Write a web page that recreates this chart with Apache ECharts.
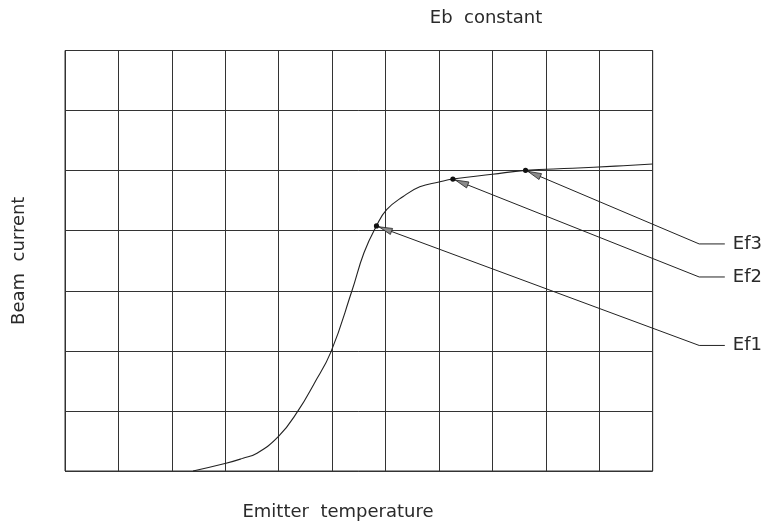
<!DOCTYPE html>
<html>
<head>
<meta charset="utf-8">
<script src="https://cdn.jsdelivr.net/npm/echarts@6/dist/echarts.min.js"></script>
<style>html,body{margin:0;padding:0;background:#fff;}#chart{width:769px;height:523px;}</style>
</head>
<body>
<div id="chart"></div>
<script>
// Curve: beam current vs emitter temperature (grid units)
const curveX = [2.396, 3.013, 3.331, 3.594, 4.005, 4.361, 4.66, 4.978, 5.371, 5.596, 5.83, 6.02, 6.33, 6.64, 7.0, 7.26, 8.0, 8.62, 9.5, 10.3, 11.0];
const curveY = [0.0, 0.128, 0.212, 0.295, 0.583, 1.0, 1.45, 1.983, 3.0, 3.633, 4.08, 4.35, 4.57, 4.73, 4.81, 4.86, 4.94, 5.005, 5.04, 5.075, 5.11];

// Annotations
const annLabels = ['Ef1', 'Ef2', 'Ef3'];
const annPointX = [5.83, 7.26, 8.62];
const annPointY = [4.08, 4.86, 5.005];
const annElbowX = [11.87, 11.87, 11.87];
const annElbowY = [2.09, 3.23, 3.78];
const annEndX = [12.35, 12.35, 12.35];

const titleText = 'Eb  constant';
const xName = 'Emitter  temperature';
const yName = 'Beam  current';

const FONT = 'DejaVu Sans';
const TXT = {fontFamily: FONT, fontSize: 18, fontWeight: 'normal', color: '#2a2a2a'};
const chart = echarts.init(document.getElementById('chart'), null, {renderer: 'canvas'});

const annData = annLabels.map((l, i) => [annPointX[i], annPointY[i], annElbowX[i], annElbowY[i], annEndX[i], i]);

const option = {
  backgroundColor: '#fff',
  animation: false,
  title: [
    {text: titleText, left: 481, top: 4, textAlign: 'center', textStyle: TXT},
    {text: xName, left: 333, top: 498, textAlign: 'center', textStyle: TXT}
  ],
  grid: {left: 65, top: 50.5, width: 587.7, height: 420.5, show: true, borderColor: '#333', borderWidth: 1, backgroundColor: 'transparent'},
  xAxis: {
    type: 'value', min: 0, max: 11, interval: 1,
    axisLine: {show: false}, axisTick: {show: false}, axisLabel: {show: false},
    splitLine: {show: true, lineStyle: {color: '#333', width: 1}}
  },
  yAxis: {
    type: 'value', min: 0, max: 7, interval: 1,
    name: yName, nameLocation: 'middle', nameGap: 37, nameRotate: 90,
    nameTextStyle: TXT,
    axisLine: {show: false}, axisTick: {show: false}, axisLabel: {show: false},
    splitLine: {show: true, lineStyle: {color: '#333', width: 1}}
  },
  series: [
    {
      type: 'line',
      data: curveX.map((x, i) => [x, curveY[i]]),
      smooth: 0.45,
      showSymbol: false,
      lineStyle: {color: '#222', width: 1.1},
      clip: false,
      z: 3
    },
    {
      type: 'custom',
      data: annData,
      clip: false,
      z: 5,
      renderItem: function (params, api) {
        const p = api.coord([api.value(0), api.value(1)]);
        const e = api.coord([api.value(2), api.value(3)]);
        const t = api.coord([api.value(4), api.value(3)]);
        const idx = api.value(5);
        const dx = e[0] - p[0], dy = e[1] - p[1];
        const L = Math.sqrt(dx * dx + dy * dy);
        const ux = dx / L, uy = dy / L;
        const nx = -uy, ny = ux;
        const tip = [p[0] + ux * 2.5, p[1] + uy * 2.5];
        const bx = p[0] + ux * 16, by = p[1] + uy * 16;
        const hw = 3.2;
        return {
          type: 'group',
          children: [
            {type: 'polyline', shape: {points: [p, e, t]},
             style: {stroke: '#222', lineWidth: 1, fill: null}},
            {type: 'polygon', shape: {points: [tip, [bx + nx * hw, by + ny * hw], [bx - nx * hw, by - ny * hw]]},
             style: {fill: '#8a8a8a', stroke: '#222', lineWidth: 0.8}},
            {type: 'circle', shape: {cx: p[0], cy: p[1], r: 2.6},
             style: {fill: '#111'}},
            {type: 'text', x: t[0] + 8, y: t[1],
             style: {text: annLabels[idx], fontFamily: FONT, fontSize: 18, fill: '#2a2a2a',
                     align: 'left', verticalAlign: 'middle'}}
          ]
        };
      }
    }
  ]
};
chart.setOption(option);
</script>
</body>
</html>
